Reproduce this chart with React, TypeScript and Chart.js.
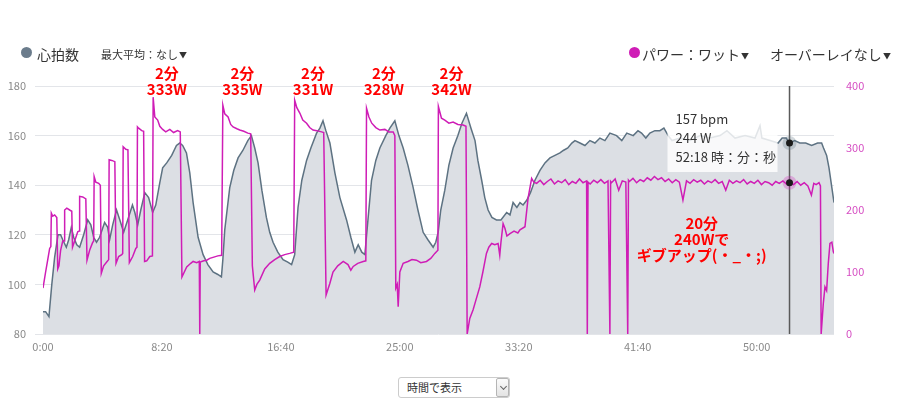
import React, { useEffect, useRef } from 'react';
import { Chart, registerables } from 'chart.js';
Chart.register(...registerables);

// Heart rate samples: [seconds, bpm]
const hrSamples: [number, number][] = [
  [0, 89], [11, 89], [18, 88], [25, 87], [37, 100], [49, 111], [63, 120], [74, 120], [83, 118], [98, 115],
  [108, 118], [119, 123], [129, 119], [142, 116], [154, 115], [171, 120], [188, 126], [201, 124], [213, 119], [225, 117],
  [238, 119], [259, 125], [272, 123], [280, 118], [293, 124], [309, 130], [323, 126], [339, 121], [356, 126], [376, 132],
  [386, 129], [398, 124], [411, 130], [428, 137], [444, 135], [461, 129], [474, 132], [491, 141], [503, 147], [520, 149],
  [541, 152], [561, 156], [575, 157], [587, 156], [603, 153], [617, 145], [631, 133], [652, 119], [673, 112], [693, 108],
  [715, 105], [735, 104], [750, 103], [756, 110], [764, 122], [785, 139], [802, 146], [820, 151], [840, 154], [861, 158],
  [876, 160], [890, 155], [904, 149], [920, 138], [939, 127], [953, 121], [967, 117], [987, 113], [1009, 110], [1029, 109],
  [1045, 108], [1058, 112], [1072, 131], [1088, 142], [1108, 150], [1126, 155], [1150, 161], [1164, 163], [1177, 166], [1189, 162],
  [1206, 157], [1227, 145], [1248, 135], [1276, 126], [1294, 119], [1311, 113], [1325, 116], [1340, 113], [1353, 112], [1365, 125],
  [1381, 142], [1399, 150], [1416, 155], [1441, 160], [1458, 163], [1479, 166], [1496, 160], [1514, 155], [1534, 148], [1556, 139],
  [1576, 130], [1598, 121], [1618, 118], [1640, 115], [1651, 117], [1661, 121], [1672, 130], [1689, 138], [1706, 148], [1724, 155],
  [1744, 160], [1761, 165], [1780, 169], [1799, 163], [1816, 158], [1828, 150], [1844, 142], [1857, 135], [1871, 130], [1887, 127],
  [1906, 126], [1925, 126], [1949, 129], [1963, 128], [1976, 133], [1992, 131], [2005, 133], [2018, 132], [2034, 134], [2049, 137],
  [2068, 142], [2089, 146], [2110, 149], [2131, 151], [2152, 152], [2173, 153], [2187, 154], [2206, 155], [2223, 157], [2236, 158],
  [2257, 157], [2278, 156], [2299, 158], [2320, 157], [2341, 159], [2362, 158], [2383, 161], [2411, 160], [2433, 158], [2454, 161],
  [2481, 160], [2501, 162], [2516, 161], [2534, 159], [2551, 161], [2572, 162], [2593, 162], [2610, 163], [2628, 160], [2644, 158],
  [2678, 159], [2720, 158], [2762, 160], [2804, 159], [2846, 160], [2875, 162], [2909, 159], [2951, 160], [2993, 159], [3014, 164],
  [3022, 159], [3056, 158], [3090, 157], [3107, 159], [3124, 159], [3138, 157], [3160, 158], [3181, 157], [3206, 157], [3231, 156],
  [3256, 157], [3273, 157], [3281, 155], [3294, 152], [3304, 147], [3316, 139], [3325, 133],
];

// Power samples: [seconds, watts]
const powerSamples: [number, number][] = [
  [0, 74], [11, 100], [20, 120], [28, 138], [33, 141], [35, 195], [41, 190], [49, 192], [58, 188], [62, 105],
  [67, 110], [74, 135], [83, 150], [89, 150], [91, 200], [100, 203], [112, 200], [121, 198], [124, 140], [133, 150],
  [146, 165], [152, 166], [154, 222], [167, 221], [180, 218], [185, 119], [196, 135], [208, 147], [213, 150], [215, 254],
  [222, 245], [234, 243], [241, 240], [245, 98], [255, 110], [272, 118], [276, 120], [278, 281], [289, 280], [302, 278],
  [307, 114], [318, 125], [331, 128], [335, 130], [337, 302], [348, 298], [357, 297], [363, 115], [377, 125], [390, 138],
  [395, 140], [397, 334], [402, 332], [415, 328], [423, 327], [427, 117], [436, 118], [449, 125], [460, 126], [463, 382],
  [470, 350], [482, 345], [491, 335], [503, 330], [516, 326], [533, 330], [549, 325], [566, 328], [577, 326], [584, 92],
  [604, 108], [621, 114], [631, 117], [646, 115], [657, 117], [659, 0], [661, 116], [676, 118], [688, 119], [701, 122],
  [718, 124], [735, 126], [751, 127], [756, 369], [764, 355], [778, 350], [789, 338], [799, 334], [815, 331], [827, 329],
  [844, 327], [861, 324], [873, 323], [880, 110], [890, 71], [899, 80], [911, 87], [932, 105], [953, 114], [974, 120],
  [995, 125], [1016, 128], [1037, 130], [1054, 132], [1058, 377], [1067, 365], [1080, 356], [1092, 345], [1108, 340], [1121, 333],
  [1135, 329], [1151, 328], [1171, 326], [1180, 325], [1190, 63], [1206, 82], [1219, 100], [1239, 110], [1262, 117], [1282, 112],
  [1294, 103], [1304, 109], [1323, 114], [1346, 117], [1357, 118], [1360, 364], [1370, 350], [1382, 340], [1399, 333], [1416, 329],
  [1437, 330], [1454, 326], [1472, 326], [1479, 320], [1483, 74], [1489, 80], [1493, 44], [1500, 100], [1514, 114], [1534, 117],
  [1551, 120], [1570, 119], [1588, 115], [1612, 117], [1630, 122], [1647, 130], [1660, 135], [1662, 367], [1675, 348], [1689, 345],
  [1706, 340], [1724, 342], [1744, 338], [1766, 337], [1778, 335], [1783, 0], [1794, 25], [1808, 39], [1820, 55], [1836, 76],
  [1849, 100], [1864, 130], [1874, 140], [1886, 146], [1899, 144], [1913, 146], [1920, 127], [1925, 148], [1934, 178], [1942, 170],
  [1950, 158], [1963, 162], [1980, 166], [1996, 163], [2005, 168], [2026, 173], [2039, 219], [2054, 251], [2063, 245],
  [2075, 243], [2090, 248], [2105, 241], [2120, 246], [2135, 250], [2150, 242], [2165, 247], [2180, 244], [2195, 249], [2210, 241],
  [2225, 246], [2240, 243], [2255, 250], [2270, 244], [2285, 247], [2288, 0], [2291, 245], [2300, 242], [2315, 248], [2330, 244],
  [2345, 249], [2360, 243], [2375, 247], [2383, 0], [2386, 246], [2390, 244], [2405, 250], [2420, 232], [2435, 247], [2450, 245],
  [2458, 0], [2461, 248], [2465, 246], [2480, 251], [2495, 244], [2510, 249], [2525, 246], [2540, 252], [2555, 248], [2570, 254],
  [2585, 249], [2600, 252], [2615, 246], [2630, 250], [2645, 244], [2660, 249], [2675, 245], [2690, 216], [2705, 247], [2720, 243],
  [2735, 249], [2750, 245], [2765, 248], [2780, 242], [2795, 247], [2810, 244], [2825, 249], [2840, 243], [2855, 246], [2870, 232],
  [2885, 248], [2900, 243], [2915, 247], [2930, 244], [2945, 249], [2960, 242], [2975, 246], [2990, 243], [3005, 248], [3020, 241],
  [3035, 246], [3050, 244], [3065, 240], [3080, 246], [3095, 243], [3110, 247], [3125, 242], [3138, 244], [3155, 241], [3170, 246],
  [3185, 240], [3200, 244], [3215, 239], [3230, 224], [3240, 243], [3250, 241], [3262, 244], [3268, 239], [3271, 0], [3280, 49],
  [3287, 76], [3294, 70], [3301, 114], [3308, 146], [3316, 148], [3322, 133], [3325, 130],
];

const xMax = 3325;
const xTickValues = [0, 500, 1000, 1500, 2000, 2500, 3000];
const hrMin = 80;
const hrMax = 180;
const hrStep = 20;
const pwMin = 0;
const pwMax = 400;
const pwStep = 100;

const intervalTimes = [521, 838, 1135, 1433, 1717];
const intervalWatts = ['333W', '335W', '331W', '328W', '342W'];
const intervalDuration = '2分';
const giveUpTime = 2769;
const giveUpLines = ['20分', '240Wで', 'ギブアップ(・_・;)'];
const cursorTime = 3138;

const HR_COLOR = '#5d7282';
const HR_FILL = '#dcdfe4';
const PW_COLOR = '#cf1db6';
const FONT = "'Noto Sans CJK JP', 'Noto Sans', sans-serif";

function fmtTime(s: number) {
  const m = Math.floor(s / 60);
  const ss = Math.round(s % 60);
  return `${m}:${String(ss).padStart(2, '0')}`;
}

const overlayPlugin = {
  id: 'overlay',
  afterDatasetsDraw(chart: any) {
    const { ctx, chartArea, scales } = chart;
    const sx = scales.x;
    const sy = scales.y;
    const sp = scales.yP;
    ctx.save();

    // interval annotations
    ctx.fillStyle = '#ff0000';
    ctx.font = `bold 15px ${FONT}`;
    ctx.textAlign = 'center';
    ctx.textBaseline = 'middle';
    intervalTimes.forEach((t, i) => {
      const px = sx.getPixelForValue(t);
      ctx.fillText(intervalDuration, px, chartArea.top - 13);
      ctx.fillText(intervalWatts[i], px, chartArea.top + 3);
    });
    const gx = sx.getPixelForValue(giveUpTime);
    giveUpLines.forEach((s, i) => ctx.fillText(s, gx, chartArea.top + 137 + i * 16));

    // cursor line
    const cx = sx.getPixelForValue(cursorTime);
    ctx.strokeStyle = '#5a5a5a';
    ctx.lineWidth = 1.5;
    ctx.beginPath();
    ctx.moveTo(cx, chartArea.top);
    ctx.lineTo(cx, chartArea.bottom);
    ctx.stroke();

    // tooltip
    const hr = (hrSamples.find((p) => p[0] === cursorTime) || [0, 0])[1];
    const pw = (powerSamples.find((p) => p[0] === cursorTime) || [0, 0])[1];
    const bx = cx - 122;
    const by = chartArea.top + 19;
    ctx.fillStyle = 'rgba(255,255,255,0.82)';
    ctx.fillRect(bx, by, 110, 67);
    ctx.fillStyle = '#333';
    ctx.font = `13px ${FONT}`;
    ctx.textAlign = 'left';
    ctx.textBaseline = 'middle';
    ctx.fillText(`${hr} bpm`, bx + 8, by + 14);
    ctx.fillText(`${pw} W`, bx + 8, by + 33);
    ctx.fillText(`${fmtTime(cursorTime)} 時：分：秒`, bx + 8, by + 52);

    // dots
    const dots: [number, string][] = [
      [sy.getPixelForValue(hr), 'rgba(93,114,130,0.28)'],
      [sp.getPixelForValue(pw), 'rgba(207,29,182,0.28)'],
    ];
    dots.forEach(([py, halo]) => {
      ctx.fillStyle = halo;
      ctx.beginPath();
      ctx.arc(cx, py, 7, 0, Math.PI * 2);
      ctx.fill();
      ctx.fillStyle = '#1a1a1a';
      ctx.beginPath();
      ctx.arc(cx, py, 3.5, 0, Math.PI * 2);
      ctx.fill();
    });
    ctx.restore();
  },
};

export default function App() {
  const ref = useRef<HTMLCanvasElement>(null);
  useEffect(() => {
    const tickFont = { size: 11, family: FONT };
    const chart = new Chart(ref.current as HTMLCanvasElement, {
      type: 'line',
      data: {
        datasets: [
          {
            label: 'パワー',
            data: powerSamples.map(([x, y]) => ({ x, y })),
            yAxisID: 'yP',
            borderColor: PW_COLOR,
            borderWidth: 1.5,
            fill: false,
            pointRadius: 0,
            tension: 0,
          },
          {
            label: '心拍数',
            data: hrSamples.map(([x, y]) => ({ x, y })),
            yAxisID: 'y',
            borderColor: HR_COLOR,
            backgroundColor: HR_FILL,
            borderWidth: 1.5,
            fill: 'start',
            pointRadius: 0,
            tension: 0,
          },
        ],
      },
      options: {
        responsive: true,
        maintainAspectRatio: false,
        animation: false,
        events: [],
        layout: { padding: { left: 8, right: 36, top: 86, bottom: 6 } },
        plugins: { legend: { display: false }, tooltip: { enabled: false } },
        scales: {
          x: {
            type: 'linear',
            min: 0,
            max: xMax,
            border: { display: false },
            grid: { display: false, drawTicks: false },
            ticks: {
              autoSkip: false,
              maxRotation: 0,
              padding: 6,
              color: '#8a8a8a',
              font: tickFont,
              callback: (v: any) => fmtTime(Number(v)),
            },
            afterBuildTicks: (s: any) => { s.ticks = xTickValues.map((value) => ({ value })); },
            afterFit: (s: any) => { s.height = 20; },
          },
          y: {
            position: 'left',
            min: hrMin,
            max: hrMax,
            border: { display: false },
            grid: { color: '#e3e5e9', tickLength: 8 },
            ticks: { stepSize: hrStep, padding: 9, color: '#8a8a8a', font: tickFont },
            afterFit: (s: any) => { s.width = 35; },
          },
          yP: {
            position: 'right',
            min: pwMin,
            max: pwMax,
            border: { display: false },
            grid: { display: false, drawTicks: false },
            ticks: { stepSize: pwStep, padding: 12, color: '#d64fc3', font: tickFont },
            afterFit: (s: any) => { s.width = 30; },
          },
        },
      } as any,
      plugins: [overlayPlugin],
    });
    return () => chart.destroy();
  }, []);

  const tri = <span style={{ fontSize: 8, marginLeft: 1, verticalAlign: 1 }}>▼</span>;

  return (
    <div style={{ position: 'fixed', left: 0, top: 0, width: 900, height: 406, background: '#fff', fontFamily: FONT, color: '#333' }}>
      <div style={{ position: 'absolute', left: 0, top: 0, width: 900, height: 360 }}>
        <canvas ref={ref} />
      </div>
      <div style={{ position: 'absolute', left: 21, top: 47, width: 11, height: 11, borderRadius: '50%', background: '#6b7c8c' }} />
      <div style={{ position: 'absolute', left: 37, top: 44, fontSize: 14, lineHeight: '20px', whiteSpace: 'nowrap' }}>心拍数</div>
      <div style={{ position: 'absolute', left: 101, top: 46, fontSize: 11, lineHeight: '16px', whiteSpace: 'nowrap' }}>最大平均：なし{tri}</div>
      <div style={{ position: 'absolute', left: 629, top: 47, width: 11, height: 11, borderRadius: '50%', background: PW_COLOR }} />
      <div style={{ position: 'absolute', left: 642, top: 44, fontSize: 14, lineHeight: '20px', whiteSpace: 'nowrap' }}>パワー：ワット{tri}</div>
      <div style={{ position: 'absolute', left: 770, top: 44, fontSize: 14, lineHeight: '20px', whiteSpace: 'nowrap' }}>オーバーレイなし{tri}</div>
      <div style={{ position: 'absolute', left: 398, top: 377, width: 112, height: 21, boxSizing: 'border-box', border: '1px solid #ccc', borderRadius: 3, background: '#fff' }}>
        <div style={{ position: 'absolute', left: 8, top: 0, fontSize: 11, lineHeight: '19px', whiteSpace: 'nowrap' }}>時間で表示</div>
        <div style={{ position: 'absolute', right: 0, top: 0, width: 13, height: 19, boxSizing: 'border-box', border: '1px solid #b5b5b5', borderRadius: 2, background: 'linear-gradient(#fbfbfb,#e4e4e4)' }}>
          <div style={{ position: 'absolute', left: 3.5, top: 5, width: 4, height: 4, borderRight: '1px solid #666', borderBottom: '1px solid #666', transform: 'rotate(45deg)' }} />
        </div>
      </div>
    </div>
  );
}
